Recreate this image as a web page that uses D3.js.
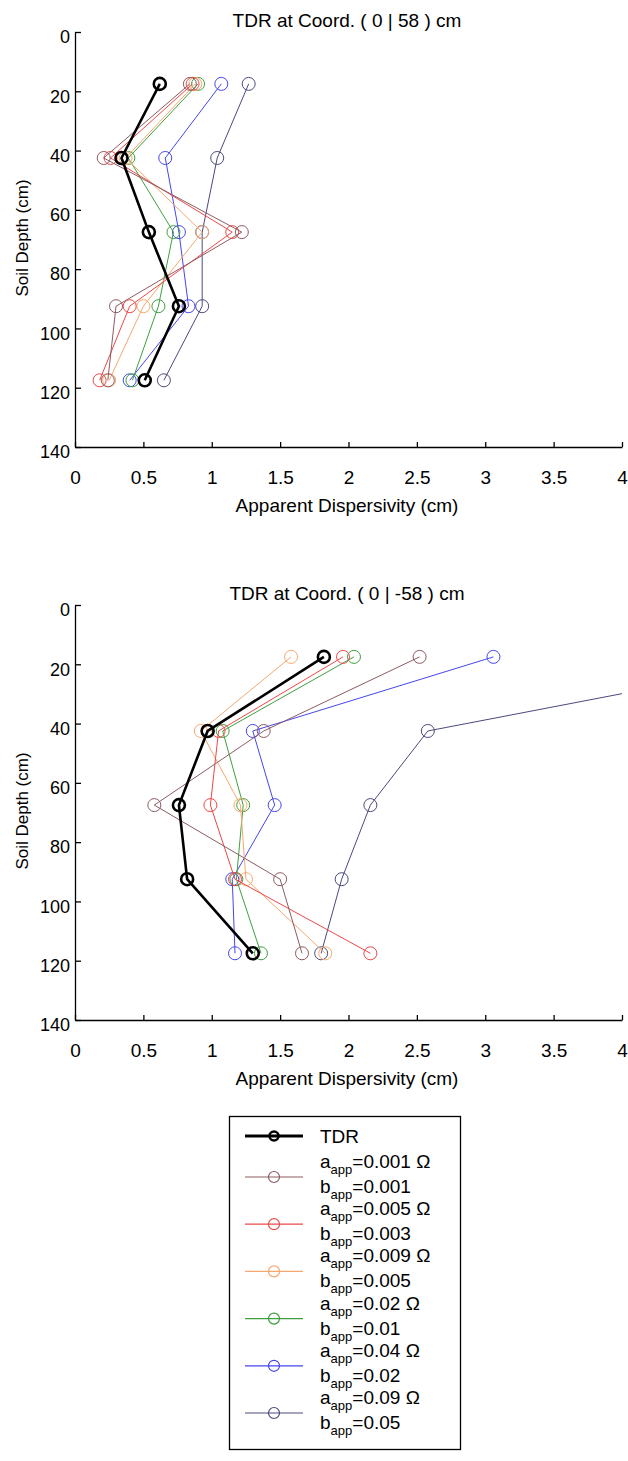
<!DOCTYPE html>
<html>
<head>
<meta charset="utf-8">
<script src="https://cdn.jsdelivr.net/npm/d3@7"></script>
<style>
  body { margin: 0; background: #fff; }
  text { font-family: "Liberation Sans", Arial, sans-serif; fill: #000; }
  .axis path, .axis line { stroke: #000; stroke-width: 1.3; }
</style>
</head>
<body>
<div id="chart"></div>
<script>
// depths of the TDR probes (cm)
var depths = [17.5, 42.5, 67.5, 92.5, 117.5];
var xTicks = [0, 0.5, 1, 1.5, 2, 2.5, 3, 3.5, 4];
var yTicks = [0, 20, 40, 60, 80, 100, 120, 140];

var seriesNames = ["TDR", "0.001|0.001", "0.005|0.003", "0.009|0.005", "0.02|0.01", "0.04|0.02", "0.09|0.05"];
var seriesColors = ["#000000", "#8c5c62", "#ee4848", "#f6a870", "#3f9f3f", "#4646ee", "#4a4a7c"];

// TDR at Coord. ( 0 | 58 ) cm
var top_tdr   = [0.62, 0.34, 0.54, 0.76, 0.51];
var top_a001  = [0.84, 0.21, 1.22, 0.30, 0.24];
var top_a005  = [0.86, 0.26, 1.15, 0.40, 0.18];
var top_a009  = [0.88, 0.37, 0.93, 0.50, 0.25];
var top_a02   = [0.90, 0.39, 0.72, 0.61, 0.42];
var top_a04   = [1.07, 0.66, 0.76, 0.83, 0.40];
var top_a09   = [1.27, 1.04, 0.93, 0.93, 0.65];

// TDR at Coord. ( 0 | -58 ) cm
var bot_tdr   = [1.82, 0.97, 0.76, 0.82, 1.30];
var bot_a001  = [2.52, 1.38, 0.58, 1.50, 1.66];
var bot_a005  = [1.96, 1.05, 0.99, 1.17, 2.16];
var bot_a009  = [1.58, 0.92, 1.21, 1.25, 1.83];
var bot_a02   = [2.04, 1.08, 1.23, 1.18, 1.36];
var bot_a04   = [3.06, 1.30, 1.46, 1.15, 1.17];
var bot_a09   = [5.40, 2.58, 2.16, 1.95, 1.80];

var svg = d3.select("#chart").append("svg")
    .attr("width", 628)
    .attr("height", 1461);

/**
 * Draws one depth profile panel
 */
function drawPanel(top, title, series, clipId) {
    var x = d3.scaleLinear().domain([0, 4]).range([75, 622]);
    var y = d3.scaleLinear().domain([0, 140]).range([top + 32, top + 447]);

    svg.append("text")
        .attr("x", 347)
        .attr("y", top + 27)
        .attr("text-anchor", "middle")
        .style("font-size", "19px")
        .text(title);

    svg.append("clipPath").attr("id", clipId)
        .append("rect")
        .attr("x", x(0)).attr("y", y(0))
        .attr("width", x(4) - x(0)).attr("height", y(140) - y(0));

    // x axis, ticks pointing inward
    var xAxis = svg.append("g")
        .attr("class", "axis")
        .attr("transform", "translate(0," + y(140) + ")")
        .call(d3.axisBottom(x).tickValues(xTicks).tickSizeInner(-5).tickSizeOuter(0)
            .tickFormat(d3.format("")));
    xAxis.selectAll("text")
        .attr("y", 24)
        .style("font-size", "19px");

    var yAxis = svg.append("g")
        .attr("class", "axis")
        .attr("transform", "translate(" + x(0) + ",0)")
        .call(d3.axisLeft(y).tickValues(yTicks).tickSizeInner(-6).tickSizeOuter(0));
    yAxis.selectAll("text")
        .attr("x", -5)
        .attr("dy", "0.6em")
        .style("font-size", "18px");

    svg.append("text")
        .attr("x", 347)
        .attr("y", top + 512)
        .attr("text-anchor", "middle")
        .style("font-size", "19px")
        .text("Apparent Dispersivity (cm)");

    svg.append("text")
        .attr("transform", "translate(28," + (top + 238) + ") rotate(-90)")
        .attr("text-anchor", "middle")
        .style("font-size", "17px")
        .text("Soil Depth (cm)");

    var line = d3.line()
        .x(function(d) { return x(d[0]); })
        .y(function(d) { return y(d[1]); });

    var plot = svg.append("g").attr("clip-path", "url(#" + clipId + ")");

    // fitted series first, TDR last so it sits on top
    for (var i = series.length - 1; i >= 0; i--) {
        var pts = series[i].map(function(v, j) { return [v, depths[j]]; });
        var isTdr = (i == 0);
        var g = plot.append("g");
        g.append("path")
            .datum(pts)
            .attr("d", line)
            .attr("fill", "none")
            .attr("stroke", seriesColors[i])
            .attr("stroke-width", isTdr ? 2.6 : 1);
        g.selectAll("circle")
            .data(pts)
            .enter().append("circle")
            .attr("cx", function(d) { return x(d[0]); })
            .attr("cy", function(d) { return y(d[1]); })
            .attr("r", isTdr ? 6 : 6.5)
            .attr("fill", "none")
            .attr("stroke", seriesColors[i])
            .attr("stroke-width", isTdr ? 2.6 : 1);
    }
}

drawPanel(0, "TDR at Coord. ( 0 | 58 ) cm",
    [top_tdr, top_a001, top_a005, top_a009, top_a02, top_a04, top_a09], "clipTop");
drawPanel(573, "TDR at Coord. ( 0 | -58 ) cm",
    [bot_tdr, bot_a001, bot_a005, bot_a009, bot_a02, bot_a04, bot_a09], "clipBot");

// legend
var legend = svg.append("g");
legend.append("rect")
    .attr("x", 229.5).attr("y", 1116.5)
    .attr("width", 231).attr("height", 333)
    .attr("fill", "#fff")
    .attr("stroke", "#000")
    .attr("stroke-width", 1.3);

seriesNames.forEach(function(name, i) {
    var cy = (i == 0) ? 1136 : 1177 + (i - 1) * 47.2;
    var isTdr = (i == 0);
    legend.append("line")
        .attr("x1", 245).attr("x2", 303)
        .attr("y1", cy).attr("y2", cy)
        .attr("stroke", seriesColors[i])
        .attr("stroke-width", isTdr ? 3 : 1.2);
    legend.append("circle")
        .attr("cx", 274).attr("cy", cy)
        .attr("r", isTdr ? 4.5 : 5.5)
        .attr("fill", "none")
        .attr("stroke", seriesColors[i])
        .attr("stroke-width", isTdr ? 2.6 : 1.2);

    if (isTdr) {
        legend.append("text")
            .attr("x", 320).attr("y", cy + 7)
            .style("font-size", "19px")
            .text(name);
        return;
    }
    var parts = name.split("|");
    var t1 = legend.append("text").attr("x", 320).attr("y", cy - 9).style("font-size", "19px");
    t1.append("tspan").text("a");
    t1.append("tspan").attr("dy", 6).style("font-size", "13px").text("app");
    t1.append("tspan").attr("dy", -6).text("=" + parts[0] + " \u03A9");
    var t2 = legend.append("text").attr("x", 320).attr("y", cy + 16).style("font-size", "19px");
    t2.append("tspan").text("b");
    t2.append("tspan").attr("dy", 6).style("font-size", "13px").text("app");
    t2.append("tspan").attr("dy", -6).text("=" + parts[1]);
});
</script>
</body>
</html>
